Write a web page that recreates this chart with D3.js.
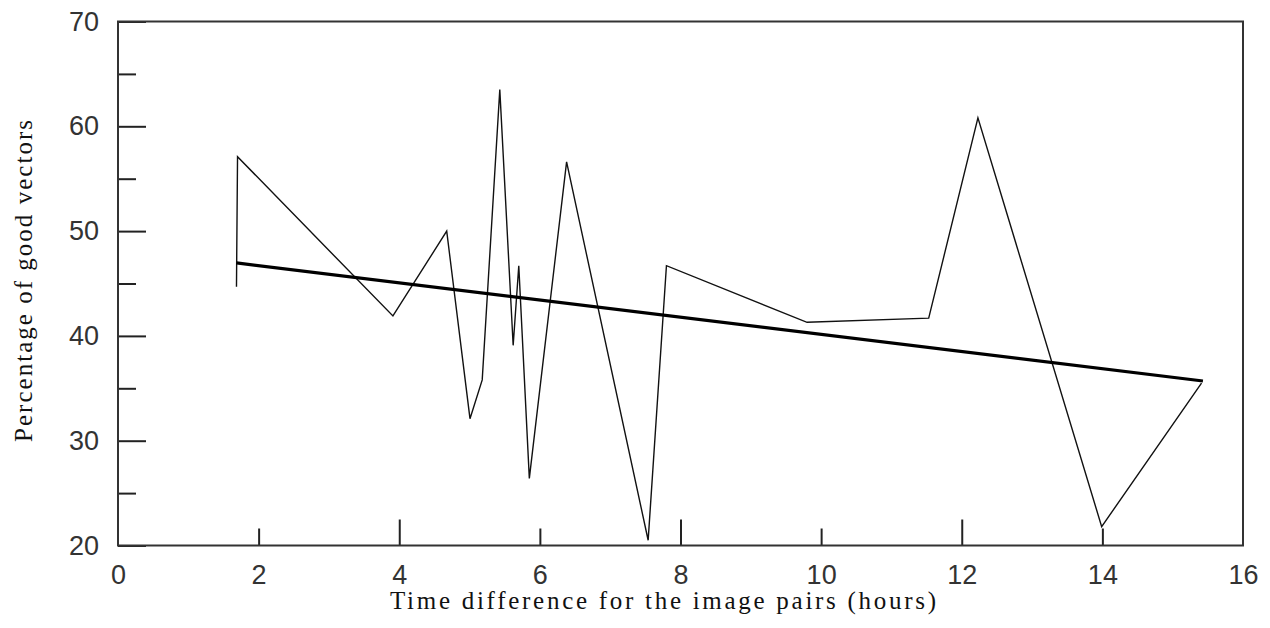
<!DOCTYPE html>
<html lang="en">
<head>
    <meta charset="UTF-8">
    <title>Percentage of good vectors vs time difference</title>
    <script src="https://d3js.org/d3.v7.min.js"></script>
    <style>
        body { margin: 0; background: #fff; }
        .tick text {
            font-family: "Liberation Sans", Arial, sans-serif;
            font-size: 27px;
            fill: #333;
        }
        .title {
            font-family: "Liberation Serif", "Times New Roman", serif;
            font-size: 25px;
            fill: #111;
        }
    </style>
</head>
<body>
    <div id="chart"></div>
    <script>
        // hours between the two images of each pair
        var hours = [1.685, 1.70, 3.91, 4.675, 5.006, 5.18, 5.43, 5.62, 5.70, 5.85,
                     6.38, 7.54, 7.80, 9.80, 11.53, 12.23, 13.99, 15.41];
        // percentage of good vectors for each pair
        var goodPct = [44.7, 57.1, 41.9, 50.0, 32.1, 35.8, 63.5, 39.1, 46.7, 26.4,
                       56.6, 20.5, 46.7, 41.3, 41.7, 60.8, 21.8, 35.5];
        // linear fit, drawn between its two ends
        var fitHours = [1.685, 15.43];
        var fitPct = [46.96, 35.7];

        var xLabelTicks = [0, 2, 4, 6, 8, 10, 12, 14, 16];
        var xMajorTicks = [4, 8, 12];
        var xMinorTicks = [2, 6, 10, 14];
        var yLabelTicks = [20, 30, 40, 50, 60, 70];
        var yMinorTicks = [25, 35, 45, 55, 65];

        (function () {
            var width = 1270;
            var height = 628;
            var mLeft = 118, mRight = 1243, mTop = 21.5, mBottom = 545.5;

            var svg = d3.select("#chart")
                .append("svg")
                .attr("width", width)
                .attr("height", height);

            var x = d3.scaleLinear().domain([0, 16]).range([mLeft, mRight]);
            var y = d3.scaleLinear().domain([20, 70]).range([mBottom, mTop]);

            function noDomain(g) { g.select(".domain").remove(); }

            // tick marks point into the plot
            svg.append("g")
                .attr("transform", "translate(0," + mBottom + ")")
                .call(d3.axisBottom(x).tickValues(xMajorTicks).tickSize(-26).tickFormat(""))
                .call(noDomain);
            svg.append("g")
                .attr("transform", "translate(0," + mBottom + ")")
                .call(d3.axisBottom(x).tickValues(xMinorTicks).tickSize(-17).tickFormat(""))
                .call(noDomain);
            svg.append("g")
                .attr("transform", "translate(0," + mBottom + ")")
                .call(d3.axisBottom(x).tickValues(xLabelTicks).tickSize(0).tickPadding(19).tickFormat(d3.format("d")))
                .call(noDomain);

            svg.append("g")
                .attr("transform", "translate(" + mLeft + ",0)")
                .call(d3.axisLeft(y).tickValues(yLabelTicks).tickSize(-28).tickPadding(19).tickFormat(d3.format("d")))
                .call(noDomain);
            svg.append("g")
                .attr("transform", "translate(" + mLeft + ",0)")
                .call(d3.axisLeft(y).tickValues(yMinorTicks).tickSize(-18).tickFormat(""))
                .call(noDomain);

            svg.selectAll(".tick line")
                .attr("stroke", "#222")
                .attr("stroke-width", 2);

            // frame
            svg.append("rect")
                .attr("x", mLeft)
                .attr("y", mTop)
                .attr("width", mRight - mLeft)
                .attr("height", mBottom - mTop)
                .attr("fill", "none")
                .attr("stroke", "#333")
                .attr("stroke-width", 2);

            var line = d3.line()
                .x(function (d) { return x(d[0]); })
                .y(function (d) { return y(d[1]); });

            svg.append("path")
                .datum(d3.zip(hours, goodPct))
                .attr("d", line)
                .attr("fill", "none")
                .attr("stroke", "#111")
                .attr("stroke-width", 1.4);

            svg.append("path")
                .datum(d3.zip(fitHours, fitPct))
                .attr("d", line)
                .attr("fill", "none")
                .attr("stroke", "#000")
                .attr("stroke-width", 3.2);

            svg.append("text")
                .attr("class", "title")
                .attr("x", 663)
                .attr("y", 609)
                .attr("text-anchor", "middle")
                .attr("textLength", 546)
                .attr("lengthAdjust", "spacing")
                .text("Time difference for the image pairs (hours)");

            svg.append("text")
                .attr("class", "title")
                .attr("transform", "translate(32,281) rotate(-90)")
                .attr("text-anchor", "middle")
                .attr("textLength", 322)
                .attr("lengthAdjust", "spacing")
                .text("Percentage of good vectors");
        })();
    </script>
</body>
</html>
